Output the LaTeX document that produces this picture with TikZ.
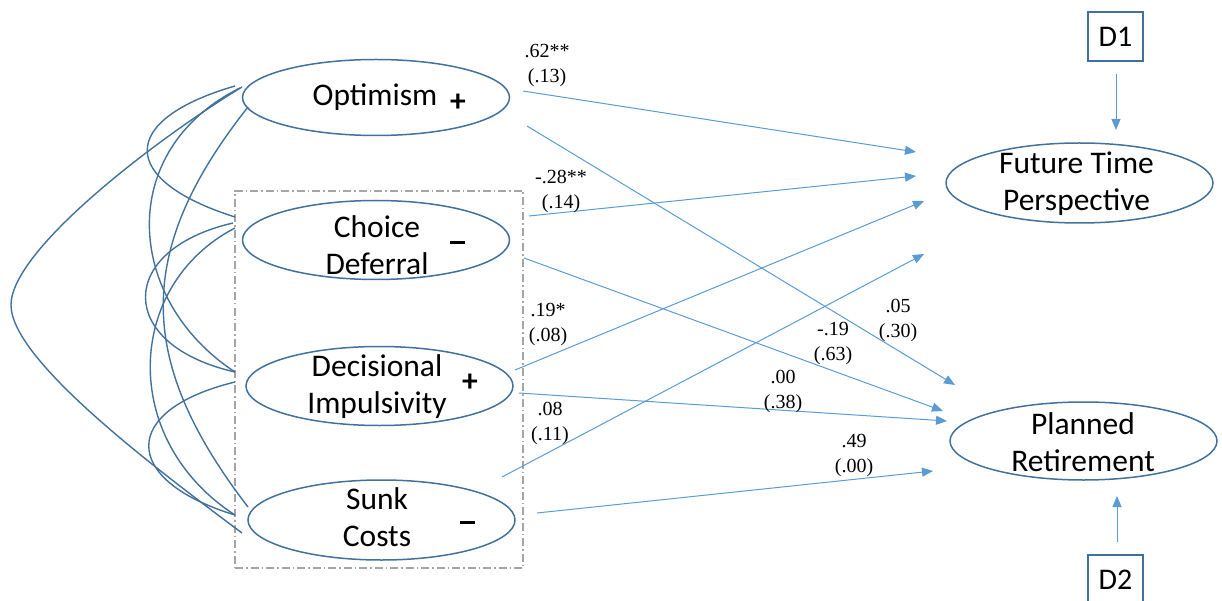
\documentclass[tikz,border=0pt]{standalone}
\usepackage{fontspec}
\setmainfont{Liberation Serif}
\newfontfamily\calfont{Carlito}
\usetikzlibrary{arrows.meta,shapes.geometric}
\definecolor{edgeblue}{HTML}{41719C}
\definecolor{pathblue}{HTML}{5B9BD5}
\definecolor{boxgray}{HTML}{A5A5A5}

\begin{document}
\begin{tikzpicture}[x=1pt,y=-1pt,
  latent/.style={ellipse, draw=edgeblue, line width=1.5pt, inner sep=0pt,
    minimum width=267pt, minimum height=79pt},
  vartext/.style={align=center, inner sep=0pt,
    font=\calfont\fontsize{31.5}{37}\selectfont},
  dummybox/.style={draw=edgeblue, line width=1.5pt, inner sep=0pt,
    minimum width=55pt, minimum height=49pt,
    font=\calfont\fontsize{30}{36}\selectfont},
  signmark/.style={inner sep=0pt, font=\calfont\bfseries\fontsize{31.5}{37}\selectfont},
  minusmark/.style={fill=black, inner sep=0pt, minimum width=15pt, minimum height=3pt},
  coef/.style={align=center, inner sep=0pt, font=\fontsize{20}{25}\selectfont},
  regpath/.style={draw=pathblue, line width=1pt, -{Triangle[length=11pt,width=9pt]}},
  cov/.style={draw=edgeblue, line width=1.4pt},
  groupbox/.style={draw=boxgray, line width=1.3pt, dash pattern=on 8pt off 3pt on 1.5pt off 3pt},
]
\useasboundingbox (0,0) rectangle (1222,601);
\clip (0,0) rectangle (1222,601);

% group frame around the three decision-style predictors
\node[groupbox, minimum width=288pt, minimum height=377pt, inner sep=0pt] (grp) at (379,379.5) {};

% predictors
\node[latent, minimum height=76pt] (opt) at (376,97.5) {};
\node[latent] (cho) at (376,240) {};
\node[latent] (dec) at (379.5,386) {};
\node[latent, minimum height=80pt] (sun) at (381.5,520) {};

\node[vartext] (opt-t) at (375,97) {Optimism};
\node[vartext] (cho-t) at (377,245) {Choice\\Deferral};
\node[vartext] (dec-t) at (377,387) {Decisional\\Impulsivity};
\node[vartext] (sun-t) at (377,517) {Sunk\\Costs};

\node[signmark] (opt-s) at (458,103) {+};
\node[minusmark] (cho-s) at (457.5,243) {};
\node[signmark] (dec-s) at (470,383) {+};
\node[minusmark] (sun-s) at (467.5,522) {};

% outcomes
\node[latent, minimum height=80pt] (ftp) at (1079.5,183) {};
\node[latent, minimum height=78pt] (pr) at (1083.5,441) {};
\node[vartext] (ftp-t) at (1076.5,184) {Future Time\\Perspective};
\node[vartext] (pr-t) at (1083,442) {Planned\\Retirement};

% control variables
\node[dummybox] (d1) at (1115.5,36.5) {D1};
\node[dummybox] (d2) at (1115.5,579.5) {D2};

% end points of the paths
\coordinate (opt-a) at (523,91);
\coordinate (opt-b) at (527,126);
\coordinate (cho-a) at (529,216);
\coordinate (cho-b) at (524,258);
\coordinate (dec-a) at (515,370);
\coordinate (dec-b) at (519,393);
\coordinate (sun-a) at (502,477);
\coordinate (sun-b) at (537,513);
\coordinate (ftp-1) at (916,152);
\coordinate (ftp-2) at (916,176);
\coordinate (ftp-3) at (924,201);
\coordinate (ftp-4) at (924,254);
\coordinate (pr-1) at (955,385);
\coordinate (pr-2) at (943,411);
\coordinate (pr-3) at (947,421);
\coordinate (pr-4) at (933,471);
\coordinate (d1-o) at (1116,74);
\coordinate (ftp-d) at (1116,130);
\coordinate (d2-o) at (1117,542);
\coordinate (pr-d) at (1117,496);

% regression paths
\draw[regpath] (opt-a) -- (ftp-1);
\draw[regpath] (opt-b) -- (pr-1);
\draw[regpath] (cho-a) -- (ftp-2);
\draw[regpath] (cho-b) -- (pr-2);
\draw[regpath] (dec-a) -- (ftp-3);
\draw[regpath] (dec-b) -- (pr-3);
\draw[regpath] (sun-a) -- (ftp-4);
\draw[regpath] (sun-b) -- (pr-4);
\draw[regpath] (d1-o) -- (ftp-d);
\draw[regpath] (d2-o) -- (pr-d);

% path coefficients (standard errors)
\node[coef] (c1) at (547,66) {.62**\\(.13)};
\node[coef] (c2) at (561,191) {-.28**\\(.14)};
\node[coef] (c3) at (548,324.5) {.19*\\(.08)};
\node[coef] (c4) at (550,423.5) {.08\\(.11)};
\node[coef] (c5) at (898,320.5) {.05\\(.30)};
\node[coef] (c6) at (833,343.5) {-.19\\(.63)};
\node[coef] (c7) at (783,391) {.00\\(.38)};
\node[coef] (c8) at (854,455.5) {.49\\(.00)};

% covariances among the predictors
\coordinate (opt-c1) at (235,86);
\coordinate (opt-c2) at (242,87);
\coordinate (opt-c3) at (248,107);
\coordinate (opt-c4) at (240,88);
\coordinate (cho-c1) at (233,223);
\coordinate (cho-c2) at (235,217);
\coordinate (cho-c3) at (235,228);
\coordinate (dec-c1) at (235,372);
\coordinate (dec-c2) at (235,382);
\coordinate (sun-c1) at (235,515);
\coordinate (sun-c2) at (248,507);
\coordinate (sun-c3) at (242,533);
\coordinate (big-tip) at (11,305);

\draw[cov] (opt-c1) .. controls (118,120) and (118,180) .. (cho-c2);
\draw[cov] (cho-c1) .. controls (116,250) and (116,345) .. (dec-c1);
\draw[cov] (dec-c2) .. controls (120,410) and (120,480) .. (sun-c1);
\draw[cov] (opt-c4) .. controls (115,150) and (125,300) .. (dec-c1);
\draw[cov] (cho-c3) .. controls (125,285) and (119,440) .. (sun-c1);
\draw[cov] (opt-c3) .. controls (135,250) and (135,360) .. (sun-c2);
\draw[cov] (opt-c2) .. controls (155,140) and (11,250) .. (big-tip)
                    .. controls (11,360) and (155,468) .. (sun-c3);
\end{tikzpicture}
\end{document}
